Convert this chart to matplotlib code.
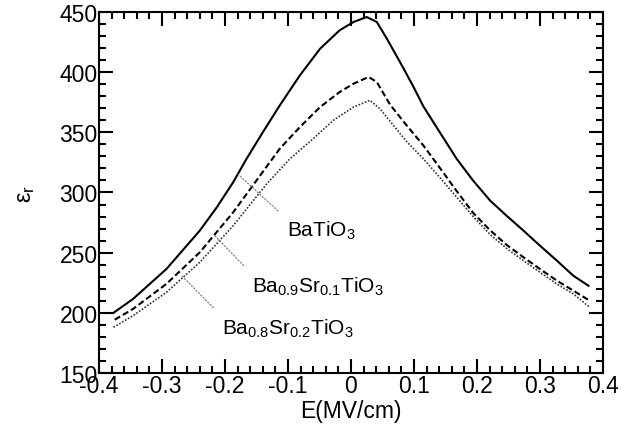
import matplotlib
matplotlib.use('Agg')
import matplotlib.pyplot as plt
from matplotlib.ticker import MultipleLocator, FormatStrFormatter

plt.rcParams['font.family'] = ['Liberation Sans', 'DejaVu Sans']
plt.rcParams['mathtext.default'] = 'regular'
plt.rcParams['axes.unicode_minus'] = False

# BaTiO3 (solid)
e_bto = [-0.377, -0.346, -0.293, -0.240, -0.213, -0.187, -0.166, -0.140, -0.113, -0.081,
         -0.049, -0.018, 0.004, 0.025, 0.041, 0.057, 0.083, 0.099, 0.115, 0.141,
         0.168, 0.194, 0.221, 0.247, 0.274, 0.300, 0.327, 0.353, 0.377]
eps_bto = [200, 211.5, 236.4, 268.3, 287.7, 308.5, 327.8, 350, 372.4, 397.4,
           419.5, 434.8, 441.7, 445.8, 441.7, 427.8, 403.5, 388, 371.5, 350,
           327.8, 309.8, 293.2, 280.7, 268.2, 255.8, 243.3, 230.8, 222.5]

# Ba0.9Sr0.1TiO3 (dashed)
e_bst1 = [-0.375, -0.346, -0.293, -0.240, -0.187, -0.129, -0.113, -0.081, -0.049, -0.018,
          0.004, 0.028, 0.041, 0.062, 0.088, 0.115, 0.141, 0.168, 0.194, 0.221,
          0.247, 0.274, 0.300, 0.327, 0.353, 0.379]
eps_bst1 = [194.3, 203.2, 224, 250.3, 283.5, 325, 336.4, 354.4, 371, 383.5,
            390.4, 396, 391.8, 373, 356, 339, 320.5, 301, 283, 268.5,
            256.5, 246.1, 236.4, 226.7, 218.4, 210.1]

# Ba0.8Sr0.2TiO3 (dotted)
e_bst2 = [-0.377, -0.346, -0.293, -0.240, -0.187, -0.134, -0.097, -0.060, -0.028, 0.004,
          0.030, 0.046, 0.067, 0.088, 0.115, 0.141, 0.168, 0.194, 0.221, 0.247,
          0.274, 0.300, 0.327, 0.353, 0.379]
eps_bst2 = [188, 197.6, 217, 242, 272.4, 307, 328, 344.7, 360, 371,
            376.6, 369.6, 356, 342.5, 328, 312.5, 296, 280, 265, 253.5,
            243.3, 233.7, 223.9, 215.7, 204.6]

labels = ['BaTiO$_3$', 'Ba$_{0.9}$Sr$_{0.1}$TiO$_3$', 'Ba$_{0.8}$Sr$_{0.2}$TiO$_3$']
label_pts = [(-0.179, 315), (-0.216, 264), (-0.268, 230.5)]
label_txt = [(-0.102, 278), (-0.157, 232), (-0.205, 197)]

fig = plt.figure(figsize=(6.42, 4.39), dpi=100)
ax = fig.add_axes([0.1542, 0.1481, 0.785, 0.8223])

ax.plot(e_bto, eps_bto, color='black', lw=1.5)
ax.plot(e_bst1, eps_bst1, color='black', lw=1.5, dashes=(3, 1.5))
ax.plot(e_bst2, eps_bst2, color='#333333', lw=1.2, dashes=(1, 1))

for txt, pt, tp in zip(labels, label_pts, label_txt):
    ax.annotate(txt, xy=pt, xytext=tp, fontsize=15, ha='left', va='top',
                arrowprops=dict(arrowstyle='-', linestyle=':', color='gray', lw=0.9,
                                relpos=(0, 1), shrinkA=6, shrinkB=0))

ax.set_xlim(-0.4, 0.4)
ax.set_ylim(150, 450)
ax.xaxis.set_major_locator(MultipleLocator(0.1))
ax.xaxis.set_minor_locator(MultipleLocator(0.02))
ax.yaxis.set_major_locator(MultipleLocator(50))
ax.yaxis.set_minor_locator(MultipleLocator(10))
ax.xaxis.set_major_formatter(FormatStrFormatter('%g'))
ax.tick_params(which='both', direction='in', top=True, right=True, width=1.5, labelsize=16.5)
ax.tick_params(which='major', length=10, pad=1)
ax.tick_params(which='minor', length=5)
for s in ax.spines.values():
    s.set_linewidth(1.5)

ax.set_xlabel('E(MV/cm)', fontsize=16.5, labelpad=1)
ax.set_ylabel('ε$_r$', fontsize=17, labelpad=16)

fig.savefig('out.png', dpi=100)
